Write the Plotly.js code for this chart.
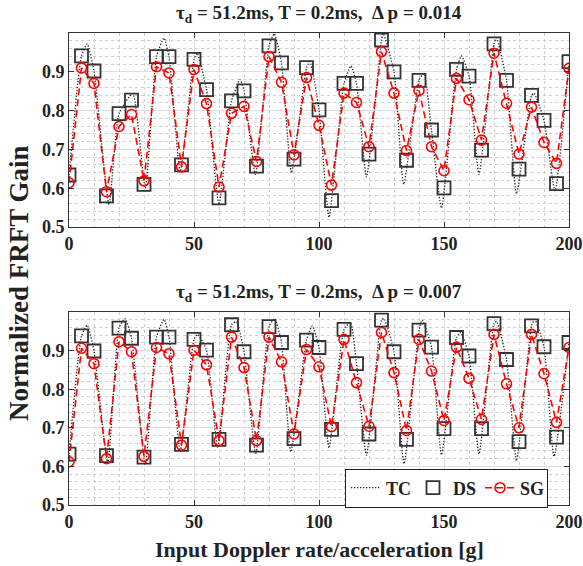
<!DOCTYPE html>
<html>
<head>
<meta charset="utf-8">
<script src="https://cdn.plot.ly/plotly-3.0.1.min.js"></script>
<style>html,body{margin:0;padding:0;background:#fff;}#chart{width:583px;height:566px;}</style>
</head>
<body>
<div id="chart"></div>
<script>
// ---- data ----
const xPts = [0,5,10,15,20,25,30,35,40,45,50,55,60,65,70,75,80,85,90,95,100,105,110,115,120,125,130,135,140,145,150,155,160,165,170,175,180,185,190,195,200];

const dsTop = [0.634,0.941,0.902,0.580,0.792,0.827,0.610,0.939,0.939,0.660,0.932,0.854,0.575,0.825,0.851,0.657,0.967,0.923,0.675,0.911,0.802,0.568,0.870,0.870,0.688,0.982,0.900,0.672,0.878,0.750,0.601,0.906,0.889,0.698,0.972,0.878,0.649,0.839,0.775,0.612,0.926];
const sgTop = [0.614,0.910,0.870,0.591,0.759,0.790,0.619,0.913,0.897,0.655,0.906,0.818,0.603,0.793,0.811,0.669,0.939,0.873,0.686,0.885,0.762,0.608,0.845,0.821,0.707,0.952,0.845,0.697,0.852,0.707,0.645,0.883,0.828,0.724,0.948,0.819,0.688,0.809,0.718,0.664,0.909];
const tcTopX = [0,5,7.3,10,16,20,25.5,30.5,35,38,40,44.5,50,51.3,55,60,65,68.4,70,74.6,80,82.1,85,89,95,96.4,100,104,110,112.8,115,119,125,125.7,130,133.9,140,142,145,149,155,157,160,164,170,171,175,179,185,186,190,194.4,200];
const tcTopY = [0.634,0.941,0.972,0.902,0.558,0.792,0.844,0.601,0.939,0.987,0.939,0.643,0.932,0.948,0.854,0.558,0.825,0.880,0.851,0.636,0.967,0.998,0.923,0.640,0.911,0.926,0.802,0.525,0.870,0.915,0.870,0.629,0.982,0.999,0.900,0.610,0.878,0.896,0.750,0.549,0.906,0.941,0.889,0.636,0.972,0.987,0.878,0.586,0.839,0.845,0.775,0.593,0.926];

const dsBot = [0.632,0.938,0.899,0.628,0.958,0.932,0.624,0.935,0.935,0.657,0.929,0.901,0.670,0.967,0.897,0.655,0.962,0.921,0.672,0.927,0.908,0.696,0.955,0.866,0.684,0.979,0.897,0.670,0.953,0.909,0.698,0.934,0.886,0.698,0.970,0.877,0.664,0.964,0.910,0.676,0.921];
const sgBot = [0.612,0.906,0.866,0.620,0.923,0.897,0.626,0.908,0.892,0.655,0.901,0.863,0.667,0.935,0.856,0.667,0.935,0.871,0.684,0.903,0.858,0.703,0.929,0.817,0.704,0.947,0.843,0.693,0.929,0.847,0.719,0.909,0.828,0.722,0.942,0.814,0.700,0.942,0.840,0.714,0.908];
const tcBotX = [0,5,7.3,10,15.5,20,22.4,25,30.5,35,38,40,44.5,50,51.5,55,59.5,65,67,70,74.7,80,82.3,85,88.7,95,97.3,100,104,110,112.6,115,119,125,126,130,134,140,141.3,145,149,155,156.7,160,164,170,171,175,179,185,186.3,190,194,200];
const tcBotY = [0.632,0.938,0.966,0.899,0.609,0.958,0.983,0.932,0.605,0.935,0.981,0.935,0.639,0.929,0.942,0.901,0.648,0.967,0.975,0.897,0.632,0.962,0.983,0.921,0.638,0.927,0.964,0.908,0.648,0.955,0.973,0.866,0.629,0.979,0.983,0.897,0.607,0.953,0.979,0.909,0.630,0.934,0.947,0.886,0.632,0.970,0.976,0.877,0.615,0.964,0.981,0.910,0.626,0.921];

const xTicks = [0,50,100,150,200];
const yTicks = [0.5,0.6,0.7,0.8,0.9];
const titleTop = "τ<sub>d</sub> = 51.2ms, T = 0.2ms,  Δ p = 0.014";
const titleBot = "τ<sub>d</sub> = 51.2ms, T = 0.2ms,  Δ p = 0.007";
const xTitle = "Input Doppler rate/acceleration [g]";
const yTitle = "Normalized FRFT Gain";
const seriesNames = ["TC","DS","SG"];

// ---- styling ----
const FONT = "Liberation Serif";
const W = 583, H = 566;
const px = v => v / W;
const py = v => 1 - v / H;

function tcTrace(x, y, xa, ya, show) {
  return {x, y, xaxis: xa, yaxis: ya, type: 'scatter', mode: 'lines', name: seriesNames[0],
    showlegend: show, line: {color: '#222', width: 1.3, dash: '1.3px,1.7px', shape: 'spline', smoothing: 0.5}};
}
function dsTrace(y, xa, ya, show) {
  return {x: xPts, y, xaxis: xa, yaxis: ya, type: 'scatter', mode: 'markers', name: seriesNames[1],
    showlegend: show, marker: {symbol: 'square-open', size: 13, color: '#333', line: {width: 1.8, color: '#333'}}};
}
function sgTrace(y, xa, ya, show) {
  return {x: xPts, y, xaxis: xa, yaxis: ya, type: 'scatter', mode: 'lines+markers', name: seriesNames[2],
    showlegend: show, line: {color: '#ff0000', width: 1.6, dash: '7px,4px'},
    marker: {symbol: 'circle-open', size: 10, color: '#ff0000', line: {width: 1.6, color: '#ff0000'}}};
}

const data = [
  tcTrace(tcTopX, tcTopY, 'x', 'y', false),
  dsTrace(dsTop, 'x', 'y', false),
  sgTrace(sgTop, 'x', 'y', false),
  tcTrace(tcBotX, tcBotY, 'x2', 'y2', true),
  dsTrace(dsBot, 'x2', 'y2', true),
  sgTrace(sgBot, 'x2', 'y2', true)
];

function xAxis(anchor) {
  return {domain: [px(69), px(569)], anchor, range: [0, 200], tickvals: xTicks,
    ticks: 'inside', ticklen: 5, tickcolor: '#333', mirror: 'ticks', showline: true, linecolor: '#333', linewidth: 1,
    showgrid: true, gridcolor: '#dedede', gridwidth: 1, zeroline: false,
    minor: {dtick: 10, showgrid: true, gridcolor: '#cfcfcf', griddash: 'dot', gridwidth: 1, ticks: ''},
    tickfont: {family: FONT, size: 18, color: '#222', weight: 'bold'}};
}
function yAxis(dom, anchor) {
  return {domain: dom, anchor, range: [0.5, 1.0], tickvals: yTicks, ticktext: yTicks.map(v => v.toFixed(1)),
    ticks: 'inside', ticklen: 5, tickcolor: '#333', mirror: 'ticks', showline: true, linecolor: '#333', linewidth: 1,
    showgrid: true, gridcolor: '#dedede', gridwidth: 1, zeroline: false,
    minor: {dtick: 0.02, showgrid: true, gridcolor: '#cfcfcf', griddash: 'dot', gridwidth: 1, ticks: ''},
    tickfont: {family: FONT, size: 18, color: '#222', weight: 'bold'}};
}

const layout = {
  width: W, height: H, margin: {l: 0, r: 0, t: 0, b: 0},
  paper_bgcolor: '#fff', plot_bgcolor: '#fff',
  font: {family: FONT, color: '#222'},
  showlegend: true,
  xaxis: xAxis('y'),
  yaxis: yAxis([py(227), py(33)], 'x'),
  xaxis2: xAxis('y2'),
  yaxis2: yAxis([py(505), py(312)], 'x2'),
  legend: {orientation: 'h', x: px(548), xanchor: 'right', y: py(488), yanchor: 'middle',
    bgcolor: '#fff', bordercolor: '#222', borderwidth: 1,
    font: {family: FONT, size: 18, color: '#222', weight: 'bold'}, itemwidth: 30,
    entrywidth: 22, entrywidthmode: 'pixels', tracegroupgap: 0},
  annotations: [
    {text: titleTop, x: px(319), y: py(14), xref: 'paper', yref: 'paper', xanchor: 'center', yanchor: 'middle', showarrow: false,
      font: {family: FONT, size: 19, color: '#222', weight: 'bold'}},
    {text: titleBot, x: px(319), y: py(293), xref: 'paper', yref: 'paper', xanchor: 'center', yanchor: 'middle', showarrow: false,
      font: {family: FONT, size: 19, color: '#222', weight: 'bold'}},
    {text: xTitle, x: px(319), y: py(549), xref: 'paper', yref: 'paper', xanchor: 'center', yanchor: 'middle', showarrow: false,
      font: {family: FONT, size: 22, color: '#222', weight: 'bold'}},
    {text: yTitle, x: px(19), y: py(284), xref: 'paper', yref: 'paper', xanchor: 'center', yanchor: 'middle', showarrow: false, textangle: -90,
      font: {family: FONT, size: 27, color: '#222', weight: 'bold'}}
  ]
};

Plotly.newPlot('chart', data, layout, {staticPlot: true, displayModeBar: false});
</script>
</body>
</html>
